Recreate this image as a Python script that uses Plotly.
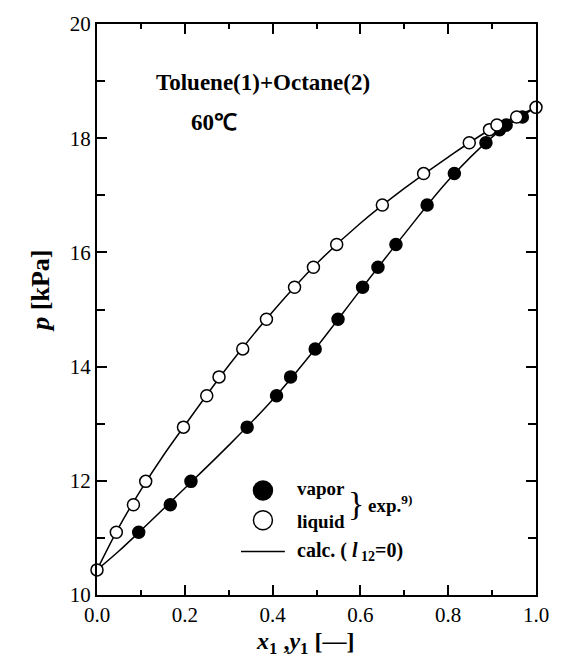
import plotly.graph_objects as go

# experimental data (Toluene(1)+Octane(2), 60 °C)
p_exp = [11.10, 11.58, 11.99, 12.94, 13.49, 13.82, 14.31, 14.83, 15.39, 15.74,
         16.14, 16.83, 17.38, 17.92, 18.15, 18.23, 18.37]
x_liq = [0.044, 0.083, 0.111, 0.197, 0.250, 0.278, 0.332, 0.386, 0.450, 0.493,
         0.546, 0.650, 0.744, 0.848, 0.894, 0.911, 0.956]
y_vap = [0.095, 0.167, 0.214, 0.342, 0.409, 0.441, 0.497, 0.549, 0.605, 0.640,
         0.681, 0.752, 0.814, 0.886, 0.917, 0.932, 0.969]
x_pure = [0.0, 1.0]
p_pure = [10.44, 18.54]

# calculated curves (l12 = 0)
calc_x = [0.0, 0.05, 0.1, 0.15, 0.2, 0.3, 0.4, 0.5, 0.6, 0.7, 0.8, 0.9, 1.0]
calc_p_liq = [10.44, 11.19, 11.84, 12.43, 12.97, 14.02, 14.96, 15.80, 16.51, 17.12, 17.67, 18.17, 18.54]
calc_y = [0.0, 0.05, 0.1, 0.2, 0.3, 0.4, 0.5, 0.6, 0.7, 0.8, 0.9, 0.95, 1.0]
calc_p_vap = [10.44, 10.77, 11.13, 11.87, 12.62, 13.42, 14.34, 15.34, 16.32, 17.26, 18.02, 18.30, 18.54]

SERIF = "Times New Roman, Liberation Serif, serif"
fig = go.Figure()

fig.add_trace(go.Scatter(x=calc_x, y=calc_p_liq, mode="lines", line=dict(color="black", width=1.5, shape="spline"), showlegend=False))
fig.add_trace(go.Scatter(x=calc_y, y=calc_p_vap, mode="lines", line=dict(color="black", width=1.5, shape="spline"), showlegend=False))

fig.add_trace(go.Scatter(x=y_vap, y=p_exp, mode="markers",
                         marker=dict(size=12, color="black", line=dict(color="black", width=1.5)), showlegend=False))
fig.add_trace(go.Scatter(x=x_liq + x_pure, y=p_exp + p_pure, mode="markers", cliponaxis=False,
                         marker=dict(size=12, color="white", line=dict(color="black", width=1.5)), showlegend=False))

# legend symbols
fig.add_trace(go.Scatter(x=[0.378], y=[11.83], mode="markers",
                         marker=dict(size=19, color="black", line=dict(color="black", width=1.5)), showlegend=False))
fig.add_trace(go.Scatter(x=[0.378], y=[11.31], mode="markers",
                         marker=dict(size=19, color="white", line=dict(color="black", width=1.5)), showlegend=False))
fig.add_trace(go.Scatter(x=[0.328, 0.428], y=[10.76, 10.76], mode="lines",
                         line=dict(color="black", width=1.5), showlegend=False))

axis_common = dict(showline=True, linecolor="black", linewidth=2, mirror="allticks",
                   ticks="inside", tickcolor="black", tickwidth=1.5, ticklen=10,
                   showgrid=False, zeroline=False,
                   tickfont=dict(family=SERIF, size=21, color="black"))

fig.update_xaxes(range=[0, 1], tickvals=[0, 0.2, 0.4, 0.6, 0.8, 1.0],
                 ticktext=["0.0", "0.2", "0.4", "0.6", "0.8", "1.0"],
                 minor=dict(dtick=0.1, ticklen=5, tickcolor="black", tickwidth=1.5, ticks="inside"),
                 **axis_common)
fig.update_yaxes(range=[10, 20], tickvals=[10, 12, 14, 16, 18, 20],
                 minor=dict(dtick=1, ticklen=8, tickcolor="black", tickwidth=1.5, ticks="inside"),
                 **axis_common)

ann = []
ann.append(dict(x=0.377, y=18.97, xref="x", yref="y", text="<b>Toluene(1)+Octane(2)</b>",
                showarrow=False, font=dict(family=SERIF, size=23, color="black")))
ann.append(dict(x=0.266, y=18.27, xref="x", yref="y", text="<b>60℃</b>",
                showarrow=False, font=dict(family=SERIF, size=23, color="black")))
ann.append(dict(x=0.450, y=11.87, xref="x", yref="y", text="<b>vapor</b>", xanchor="left",
                showarrow=False, font=dict(family=SERIF, size=19, color="black")))
ann.append(dict(x=0.450, y=11.29, xref="x", yref="y", text="<b>liquid</b>", xanchor="left",
                showarrow=False, font=dict(family=SERIF, size=19, color="black")))
ann.append(dict(x=0.590, y=11.60, xref="x", yref="y", text="}", xanchor="center",
                showarrow=False, font=dict(family=SERIF, size=34, color="black")))
ann.append(dict(x=0.612, y=11.60, xref="x", yref="y", text="<b>exp.<sup>9)</sup></b>", xanchor="left",
                showarrow=False, font=dict(family=SERIF, size=19, color="black")))
ann.append(dict(x=0.450, y=10.76, xref="x", yref="y", text="<b>calc. ( <i>l</i><sub> 12</sub>=0)</b>", xanchor="left",
                showarrow=False, font=dict(family=SERIF, size=20, color="black")))
ann.append(dict(x=0.4745, y=-0.113, xref="paper", yref="paper",
                text="<b><i>x</i><sub>1</sub> ,<i>y</i><sub>1</sub> [—]</b>",
                showarrow=False, font=dict(family=SERIF, size=24, color="black")))
ann.append(dict(x=-0.165, y=0.533, xref="paper", yref="paper", textangle=-90,
                text="<b><i>p</i> [kPa]</b>",
                showarrow=False, font=dict(family=SERIF, size=26, color="black")))

fig.update_layout(width=561, height=670, margin=dict(l=97, r=13, t=22, b=75),
                  paper_bgcolor="white", plot_bgcolor="white", annotations=ann,
                  showlegend=False)

fig.write_html("out.html")
